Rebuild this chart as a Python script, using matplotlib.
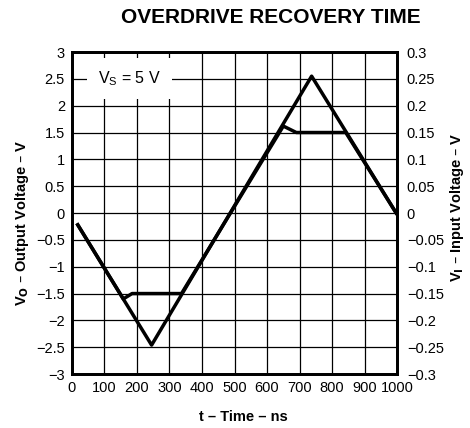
import matplotlib.pyplot as plt

plt.rcParams['font.family'] = ['Liberation Sans', 'DejaVu Sans']

# input signal (right axis, V) and output signal (left axis, V)
t_in = [18, 245, 737, 997]
v_in = [-0.022, -0.246, 0.255, 0.0]

t_out = [18, 158, 185, 337, 650, 690, 842, 997]
v_out = [-0.22, -1.6, -1.5, -1.5, 1.62, 1.5, 1.5, 0.0]

x_ticks = [0, 100, 200, 300, 400, 500, 600, 700, 800, 900, 1000]
left_ticks = [3, 2.5, 2, 1.5, 1, 0.5, 0, -0.5, -1, -1.5, -2, -2.5, -3]
right_ticks = [0.3, 0.25, 0.2, 0.15, 0.1, 0.05, 0, -0.05, -0.1, -0.15, -0.2, -0.25, -0.3]


def fmt(v):
    s = f'{v:g}'
    return s.replace('-', '\u2212')


fig = plt.figure(figsize=(4.7, 4.28), dpi=100)
ax = fig.add_axes([0.153, 0.126, 0.692, 0.7525])
ax2 = ax.twinx()

ax.set_xlim(0, 1000)
ax.set_ylim(-3, 3)
ax2.set_ylim(-0.3, 0.3)

ax.set_xticks(x_ticks)
ax.set_xticklabels([fmt(v) for v in x_ticks], fontsize=10.5)
ax.set_yticks(left_ticks)
ax.set_yticklabels([fmt(v) for v in left_ticks], fontsize=10.5)
ax2.set_yticks(right_ticks)
ax2.set_yticklabels([fmt(v) for v in right_ticks], fontsize=10.5)

ax.grid(True, color='black', linewidth=0.9)
ax.tick_params(length=0, pad=5)
ax2.tick_params(length=0, pad=7)
for a in (ax, ax2):
    for s in a.spines.values():
        s.set_linewidth(2)

ax2.plot(t_in, v_in, color='black', linewidth=2.5, solid_joinstyle='round')
ax.plot(t_out, v_out, color='black', linewidth=2.5, solid_joinstyle='round')

ax.text(178, 2.51, r'V$_\mathregular{S}$ = 5 V', fontsize=11.5, ha='center', va='center',
        bbox=dict(facecolor='white', edgecolor='none', pad=8))

fig.text(0.577, 0.96, 'OVERDRIVE RECOVERY TIME', fontsize=15, fontweight='bold',
         ha='center', va='center')
fig.text(0.517, 0.025, 't \u2013 Time \u2013 ns', fontsize=10.5, fontweight='bold',
         ha='center', va='center')
fig.text(0.047, 0.479, 'V$_\\mathbf{O}$ \u2013 Output Voltage \u2013 V',
         fontsize=10.5, fontweight='bold', rotation=90, ha='center', va='center')
fig.text(0.972, 0.516, 'V$_\\mathbf{I}$ \u2013 Input Voltage \u2013 V',
         fontsize=10.5, fontweight='bold', rotation=90, ha='center', va='center')

fig.savefig('out.png', dpi=100)
